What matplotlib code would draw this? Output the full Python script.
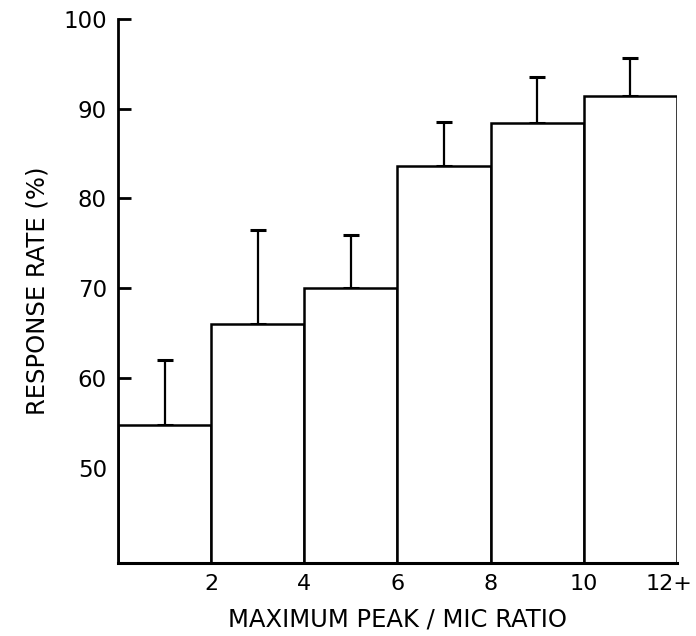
import matplotlib.pyplot as plt
import matplotlib.transforms as mtransforms
import numpy as np

# bins of max peak/MIC ratio, response rate (%) and upper error
bin_edges = [0, 2, 4, 6, 8, 10, 12]
tick_labels = ["2", "4", "6", "8", "10", "12+"]
response = [54.8, 66.0, 70.0, 83.6, 88.4, 91.4]
err_top = [62.0, 76.5, 75.9, 88.5, 93.5, 95.6]

left = np.array(bin_edges[:-1])
widths = np.diff(bin_edges)
centers = left + widths / 2
resp = np.array(response)
upper = np.array(err_top) - resp

fig = plt.figure(figsize=(6.96, 6.36), dpi=100)
ax = fig.add_axes([0.1695, 0.1155, 0.8030, 0.855])

base = 39.45
ax.bar(left, resp - base, width=widths, bottom=base, align="edge",
       facecolor="white", edgecolor="black", linewidth=1.8, zorder=2)
ax.errorbar(centers, resp, yerr=[np.zeros_like(upper), upper], fmt="none",
            ecolor="black", elinewidth=1.6, capsize=6, capthick=2.2, zorder=1)

ax.set_xlim(0, 12)
ax.set_ylim(base, 100)
ax.set_yticks([50, 60, 70, 80, 90, 100])
ax.set_xticks(bin_edges[1:])
ax.set_xticklabels(tick_labels)

for s in ["top", "right"]:
    ax.spines[s].set_visible(False)
ax.spines["left"].set_linewidth(2)
ax.spines["bottom"].set_linewidth(2.2)
ax.spines["left"].set_bounds(base, 100)

ax.tick_params(axis="y", direction="in", length=9, width=2, pad=8, labelsize=16.5)
ax.tick_params(axis="x", length=0, pad=8, labelsize=16)

# nudge "12+" left so it stays inside the figure
last = ax.get_xticklabels()[-1]
last.set_transform(last.get_transform() +
                   mtransforms.ScaledTranslation(-6 / 72, 0, fig.dpi_scale_trans))

ax.set_xlabel("MAXIMUM PEAK / MIC RATIO", fontsize=17.5, labelpad=10)
ax.set_ylabel("RESPONSE RATE (%)", fontsize=17.5, labelpad=10)

fig.savefig("out.png", dpi=100)
